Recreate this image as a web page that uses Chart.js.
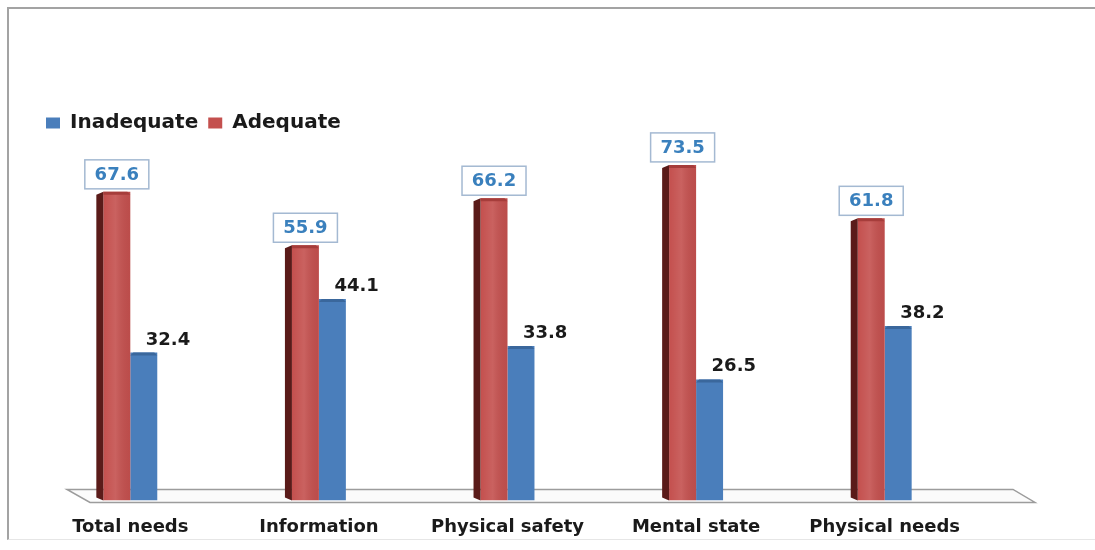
<!DOCTYPE html>
<html>
<head>
<meta charset="utf-8">
<script src="https://cdn.jsdelivr.net/npm/chart.js@4"></script>
<style>
  html, body { margin: 0; padding: 0; background: #fff; }
  #wrap { position: relative; width: 1095px; height: 550px; overflow: hidden; }
  #frame {
    position: absolute; left: 7px; top: 7px; width: 1100px; height: 530px;
    border-left: 2px solid #a3a3a3; border-top: 2px solid #a3a3a3;
    border-bottom: 1px solid #e6e6e6;
  }
  canvas { position: absolute; left: 0; top: 0; }
</style>
</head>
<body>
<div id="wrap">
  <div id="frame"></div>
  <canvas id="c" width="1095" height="560"></canvas>
</div>
<script>
// Needs categories and the share (%) of patients rating each as adequate / inadequate
const categories = ['Total needs', 'Information', 'Physical safety', 'Mental state', 'Physical needs'];
const adequate   = [67.6, 55.9, 66.2, 73.5, 61.8];
const inadequate = [32.4, 44.1, 33.8, 26.5, 38.2];
const seriesNames = { adequate: 'Adequate', inadequate: 'Inadequate' };

const RED = '#C4504E';
const RED_SIDE = '#5a1b19';
const BLUE = '#4A7EBB';
const FONT = "'DejaVu Sans', Verdana, sans-serif";

Chart.defaults.font.family = FONT;

// Floor plate under the bars
const floorPlugin = {
  id: 'floor',
  beforeDatasetsDraw(chart) {
    const { ctx, chartArea: { left, right } } = chart;
    const y0 = chart.scales.y.getPixelForValue(0);
    ctx.save();
    ctx.beginPath();
    ctx.moveTo(left + 31, y0 - 11);
    ctx.lineTo(right + 34, y0 - 11);
    ctx.lineTo(right + 56, y0 + 2);
    ctx.lineTo(left + 54, y0 + 2);
    ctx.closePath();
    ctx.fillStyle = '#fbfbfb';
    ctx.fill();
    ctx.lineWidth = 1.5;
    ctx.strokeStyle = '#9c9c9c';
    ctx.stroke();
    ctx.restore();
  }
};

// Shaded depth faces for the bars, then the value labels
const depthAndLabels = {
  id: 'depthAndLabels',
  afterDatasetsDraw(chart) {
    const { ctx } = chart;
    const redMeta = chart.getDatasetMeta(0);
    const blueMeta = chart.getDatasetMeta(1);
    ctx.save();

    // left side face of the red bars
    redMeta.data.forEach(el => {
      const xl = el.x - el.width / 2;
      ctx.beginPath();
      ctx.moveTo(xl - 7, el.y + 3);
      ctx.lineTo(xl, el.y);
      ctx.lineTo(xl, el.base);
      ctx.lineTo(xl - 7, el.base - 3);
      ctx.closePath();
      ctx.fillStyle = RED_SIDE;
      ctx.fill();
      // soft highlight band on the front face
      const g = ctx.createLinearGradient(xl, 0, xl + el.width, 0);
      g.addColorStop(0, 'rgba(255,255,255,0)');
      g.addColorStop(0.45, 'rgba(255,255,255,0.10)');
      g.addColorStop(1, 'rgba(0,0,0,0.04)');
      ctx.fillStyle = g;
      ctx.fillRect(xl, el.y, el.width, el.base - el.y);
      // top bevel
      ctx.beginPath();
      ctx.moveTo(xl, el.y);
      ctx.lineTo(xl + el.width - 3, el.y);
      ctx.lineTo(xl + el.width, el.y + 3);
      ctx.lineTo(xl, el.y + 3);
      ctx.closePath();
      ctx.fillStyle = '#a63d3b';
      ctx.fill();
    });

    // top bevel of the blue bars
    blueMeta.data.forEach(el => {
      const xl = el.x - el.width / 2;
      ctx.beginPath();
      ctx.moveTo(xl, el.y + 3);
      ctx.lineTo(xl + 3, el.y);
      ctx.lineTo(xl + el.width - 3, el.y);
      ctx.lineTo(xl + el.width, el.y + 3);
      ctx.closePath();
      ctx.fillStyle = '#3a679c';
      ctx.fill();
    });

    ctx.font = 'bold 18px ' + FONT;

    // boxed labels above the red bars
    redMeta.data.forEach((el, i) => {
      const txt = adequate[i].toFixed(1);
      const w = 64, h = 29;
      const bx = el.x - w / 2, by = el.y - 3 - h;
      ctx.fillStyle = '#ffffff';
      ctx.fillRect(bx, by, w, h);
      ctx.lineWidth = 1.5;
      ctx.strokeStyle = '#a4b9d2';
      ctx.strokeRect(bx, by, w, h);
      ctx.fillStyle = '#3a80bd';
      ctx.textAlign = 'center';
      ctx.textBaseline = 'middle';
      ctx.fillText(txt, el.x, by + h / 2 + 1);
    });

    // plain labels beside the blue bars
    blueMeta.data.forEach((el, i) => {
      const txt = inadequate[i].toFixed(1);
      ctx.fillStyle = '#1a1a1a';
      ctx.textAlign = 'left';
      ctx.textBaseline = 'alphabetic';
      ctx.fillText(txt, el.x + 2, el.y - 8);
    });

    ctx.restore();
  }
};

new Chart(document.getElementById('c'), {
  type: 'bar',
  data: {
    labels: categories,
    datasets: [
      {
        label: seriesNames.adequate,
        data: adequate,
        backgroundColor: RED,
        borderWidth: 0,
        categoryPercentage: 0.286,
        barPercentage: 1
      },
      {
        label: seriesNames.inadequate,
        data: inadequate,
        backgroundColor: BLUE,
        borderWidth: 0,
        categoryPercentage: 0.286,
        barPercentage: 1
      }
    ]
  },
  options: {
    responsive: false,
    animation: false,
    layout: { padding: { left: 36, right: 116, top: 103, bottom: 6 } },
    plugins: {
      legend: {
        position: 'top',
        align: 'start',
        reverse: true,
        labels: {
          boxWidth: 14,
          boxHeight: 11,
          padding: 10,
          color: '#1a1a1a',
          font: { size: 20, weight: 'bold', family: FONT }
        }
      },
      tooltip: { enabled: false }
    },
    scales: {
      x: {
        grid: { display: false, drawTicks: false },
        border: { display: false },
        ticks: {
          color: '#1a1a1a',
          padding: 16,
          font: { size: 18, weight: 'bold', family: FONT }
        }
      },
      y: {
        display: false,
        min: 0,
        max: 78.3
      }
    }
  },
  plugins: [floorPlugin, depthAndLabels]
});
</script>
</body>
</html>
